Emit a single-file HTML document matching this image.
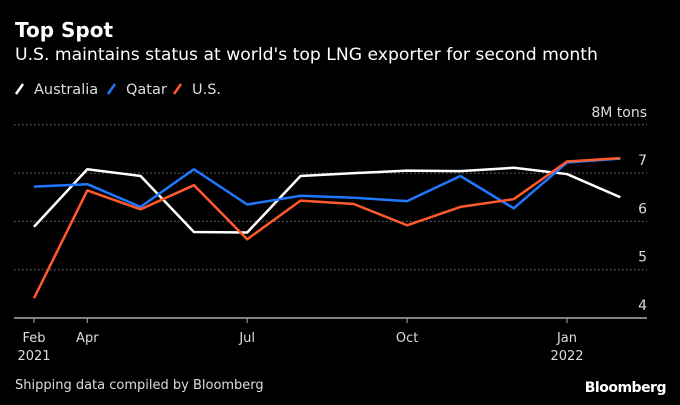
<!DOCTYPE html>
<html><head><meta charset="utf-8"><style>
html,body{margin:0;padding:0;background:#000;}
body{width:680px;height:405px;overflow:hidden;position:relative;font-family:"DejaVu Sans","Liberation Sans",sans-serif;color:#fff;}
.t{position:absolute;white-space:nowrap;}
</style></head><body>
<div class="t" style="left:15px;top:19px;font-size:20px;font-weight:bold;line-height:22px;">Top Spot</div>
<div class="t" style="left:15px;top:44px;font-size:17.2px;line-height:22px;">U.S. maintains status at world's top LNG exporter for second month</div>
<svg width="680" height="405" style="position:absolute;left:0;top:0">
<g id="legend"></g>
<g id="grid"></g><g id="lines"></g><g id="axis"></g>
<text x="15" y="389" fill="#ddd" font-size="13" font-family="DejaVu Sans, sans-serif">Shipping data compiled by Bloomberg</text>
<text x="666" y="392" fill="#fff" font-size="14" font-weight="bold" text-anchor="end" font-family="DejaVu Sans, sans-serif" letter-spacing="-0.5">Bloomberg</text>
</svg>
<script>
const months=["Feb","Apr","May","Jun","Jul","Aug","Sep","Oct","Nov","Dec","Jan","Feb"];
const australia=[5.89,7.08,6.94,5.78,5.77,6.94,7.0,7.05,7.04,7.11,6.98,6.5];
const qatar=[6.72,6.77,6.30,7.08,6.35,6.53,6.49,6.42,6.94,6.27,7.22,7.30];
const us=[4.41,6.64,6.25,6.75,5.63,6.43,6.36,5.92,6.30,6.46,7.24,7.31];
const yTicks=[4,5,6,7,8];
const xTickIdx=[0,1,4,7,10];
const xTickLabels=["Feb","Apr","Jul","Oct","Jan"];
const xYearLabels=["2021","","","","2022"];
const NS="http://www.w3.org/2000/svg";
const X=i=>34+i*53.3;
const Y=v=>318-(v-4)*48.3;
function mk(tag,attrs,parent){const e=document.createElementNS(NS,tag);for(const k in attrs)e.setAttribute(k,attrs[k]);parent.appendChild(e);return e;}
const grid=document.getElementById('grid'),lines=document.getElementById('lines'),axis=document.getElementById('axis'),legend=document.getElementById('legend');
yTicks.forEach(v=>{
  if(v>4){const l=mk('line',{x1:14,x2:647,y1:Y(v),y2:Y(v),stroke:'#777','stroke-width':1,'stroke-dasharray':'1.5,2.5'},grid);
  
  }
  const t=mk('text',{x:647,y:Y(v)-8,fill:'#ddd','font-size':14,'text-anchor':'end','font-family':'DejaVu Sans, sans-serif'},axis);
  t.textContent=v===8?'8M tons':String(v);
  
  
});
const ax=mk('line',{x1:14,x2:647,y1:318,y2:318,stroke:'#aaa','stroke-width':1.5},axis);


xTickIdx.forEach((i,k)=>{
  const tk=mk('line',{x1:X(i),x2:X(i),y1:318,y2:323,stroke:'#aaa','stroke-width':1},axis);
  
  
  const t=mk('text',{x:X(i),y:342,fill:'#ddd','font-size':13,'text-anchor':'middle','font-family':'DejaVu Sans, sans-serif'},axis);
  t.textContent=xTickLabels[k];
  
  
  if(xYearLabels[k]){const y=mk('text',{x:X(i),y:360,fill:'#ddd','font-size':13,'text-anchor':'middle','font-family':'DejaVu Sans, sans-serif'},axis);
  y.textContent=xYearLabels[k];
  
  }
});
const series=[["Australia",australia,"#ffffff"],["Qatar",qatar,"#1f78ff"],["U.S.",us,"#ff5a2c"]];
series.forEach(([name,vals,col])=>{
  const p=mk('polyline',{points:vals.map((v,i)=>X(i)+','+Y(v)).join(' '),fill:'none',stroke:col,'stroke-width':2.5,'stroke-linejoin':'round'},lines);
  
  
});
let lx=16;
series.forEach(([name,vals,col])=>{
  const s=mk('line',{x1:lx,y1:94,x2:lx+7,y2:84,stroke:col,'stroke-width':2.5},legend);
  
  
  const t=mk('text',{x:lx+18,y:94,fill:'#ddd','font-size':14.5,'font-family':'DejaVu Sans, sans-serif'},legend);
  t.textContent=name;
  
  
  lx+=name==="Australia"?92:name==="Qatar"?66:0;
});
</script>
</body></html>
